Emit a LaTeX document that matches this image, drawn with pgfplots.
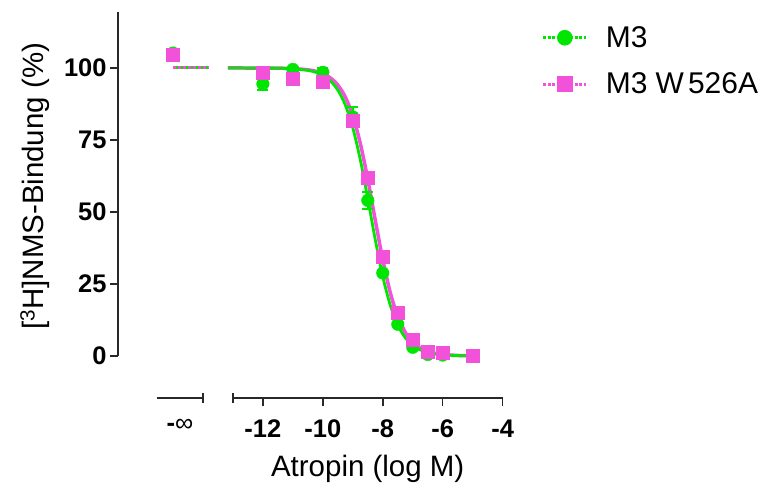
\documentclass[border=0pt]{standalone}
\usepackage{pgfplots}
\pgfplotsset{compat=1.18}
\usepackage{fontspec}
\setmainfont{Liberation Sans}
\definecolor{mgreen}{RGB}{0,230,0}
\definecolor{mpink}{RGB}{242,82,218}
\definecolor{axgray}{RGB}{40,40,40}
\begin{document}
\begin{tikzpicture}
\begin{axis}[
  width=385pt, height=388pt, scale only axis,
  xmin=-16.83, xmax=-4, ymin=-14.6, ymax=120,
  axis x line*=bottom, axis y line*=left,
  x axis line style={draw=none}, y axis line style={draw=none},
  tick align=outside, major tick length=8pt,
  tick style={line width=1.5pt, color=axgray},
  xtick={-12,-10,-8,-6,-4}, xticklabels={-12,-10,-8,-6,-4},
  ytick={0,25,50,75,100}, yticklabels={0,25,50,75,100},
  extra x ticks={-14.77}, extra x tick labels={-{\mdseries∞}},
  extra x tick style={tick style={draw=none}},
  tick label style={font=\fontsize{25.5}{30}\selectfont\bfseries},
  xticklabel style={yshift=-10pt},
  xlabel={Atropin (log M)},
  ylabel={[\textsuperscript{3}H]NMS-Bindung (\%)},
  label style={font=\fontsize{29.5}{35}\selectfont},
  x label style={at={(axis description cs:0.649,-0.183)}, anchor=center},
  y label style={at={(axis description cs:-0.216,0.546)}, anchor=center, rotate=0},
  clip=false,
  legend style={draw=none, fill=none, font=\fontsize{30}{36}\selectfont,
    at={(axis description cs:1.1013,0.964)}, anchor=north west,
    inner sep=0pt, row sep=20pt,
    nodes={inner xsep=10pt},
    /tikz/every odd column/.append style={column sep=8pt}},
  legend cell align=left,
  legend image code/.code={\draw[mark repeat=2,mark phase=2,#1] plot coordinates {(0pt,0pt) (21.5pt,0pt) (43pt,0pt)};},
]
\addlegendimage{mgreen, line width=3pt, dash pattern=on 3pt off 1.5pt, mark=*, mark options={solid}, mark size=6.3pt}
\addlegendentry{M3}
\addlegendimage{mpink, line width=3pt, dash pattern=on 3pt off 1.5pt, mark=square*, mark options={solid}, mark size=6.5pt}
\addlegendentry{M3 W\kern4pt 526A}

% axes drawn as broken lines
\draw[axgray, line width=1.5pt] (axis cs:-16.83,0) -- (axis cs:-16.83,119.4);
\draw[axgray, line width=1.5pt] (axis cs:-15.53,-14.6) -- (axis cs:-14,-14.6);
\draw[axgray, line width=1.5pt] (axis cs:-13,-14.6) -- (axis cs:-4,-14.6);
\draw[axgray, line width=1.5pt] (axis cs:-14,-16.35) -- (axis cs:-14,-12.85);
\draw[axgray, line width=1.5pt] (axis cs:-13,-16.35) -- (axis cs:-13,-12.85);

% -infinity plateau
\addplot[forget plot, mgreen, line width=3pt] coordinates {(-15.0,100) (-13.8,100)};
\addplot[forget plot, mpink, line width=3pt, dash pattern=on 3pt off 2pt] coordinates {(-15.0,100) (-13.8,100)};

% fitted curves
\addplot[forget plot, mpink, line width=3.5pt, smooth] coordinates {
(-13.17,100) (-12.5,99.99) (-12,99.98) (-11.5,99.94) (-11,99.80) (-10.5,99.37)
(-10.25,98.89) (-10,98.04) (-9.75,96.57) (-9.5,94.07) (-9.25,89.91) (-9,83.37)
(-8.75,73.81) (-8.5,61.32) (-8.25,47.12) (-8,33.39) (-7.75,21.99) (-7.5,13.68)
(-7.25,8.18) (-7,4.77) (-6.75,2.74) (-6.5,1.56) (-6.25,0.88) (-6,0.50) (-5.5,0.16) (-5,0.05)};
\addplot[forget plot, mgreen, line width=2.8pt, smooth] coordinates {
(-13.17,100) (-12.5,99.99) (-12,99.97) (-11.5,99.92) (-11,99.74) (-10.5,99.17)
(-10.25,98.54) (-10,97.44) (-9.75,95.53) (-9.5,92.32) (-9.25,87.11) (-9,79.17)
(-8.75,68.12) (-8.5,54.59) (-8.25,40.34) (-8,27.55) (-7.75,17.61) (-7.5,10.73)
(-7.25,6.33) (-7,3.66) (-6.75,2.09) (-6.5,1.19) (-6.25,0.67) (-6,0.38) (-5.5,0.12) (-5,0.04)};

% data points M3
\addplot[forget plot, only marks, mgreen, mark=*, mark size=6.3pt,
  error bars/.cd, y dir=both, y explicit,
  error bar style={line width=2pt, mgreen},
  error mark options={rotate=90, mark size=5.5pt, line width=2pt, mgreen}]
coordinates {
(-15.0,105.2) +- (0,0)
(-12,94.5) +- (0,2)
(-11,99.5) +- (0,0)
(-10,98.5) +- (0,1.5)
(-9,83) +- (0,3.5)
(-8.5,54) +- (0,3)
(-8,28.8) +- (0,0)
(-7.5,11) +- (0,0)
(-7,3) +- (0,0)
(-6.5,0.5) +- (0,0)
(-6,0.3) +- (0,0)
(-5,0) +- (0,0)};

% data points M3 W526A
\addplot[forget plot, only marks, mpink, mark=square*, mark size=6.5pt] coordinates {
(-15.0,104.7) (-12,98.4) (-11,96.2) (-10,95.3) (-9,81.6) (-8.5,61.8) (-8,34.4)
(-7.5,14.9) (-7,5.6) (-6.5,1.4) (-6,1.2) (-5,0)};

\path (axis cs:-20.77,-45.14) rectangle (axis cs:4.833,123.61);
\end{axis}
\end{tikzpicture}
\end{document}
